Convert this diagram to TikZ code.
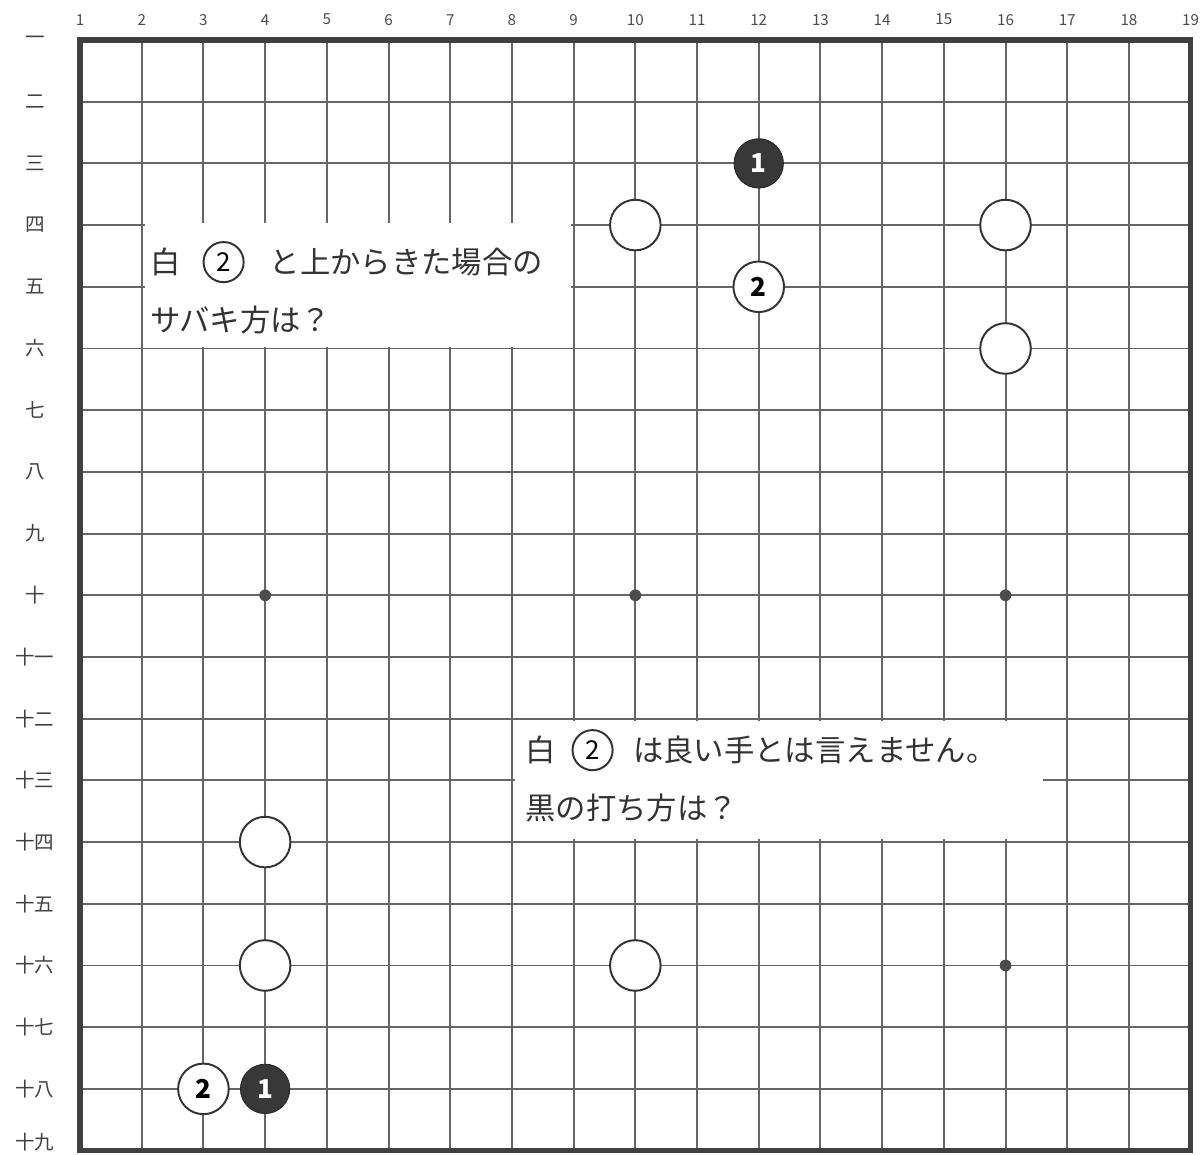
\documentclass[tikz,border=0pt]{standalone}
\usepackage{fontspec}
\newfontfamily\jp{Noto Sans CJK JP}
\usetikzlibrary{positioning}

\begin{document}
\begin{tikzpicture}[
    gridline/.style={draw=black!60, line width=0.9pt},
    border/.style={draw=black!75, line width=2.4pt},
    stonew/.style={circle, draw=black!80, fill=white, line width=0.9pt, minimum size=0.82cm, inner sep=0pt, font=\jp\bfseries\fontsize{12}{12}\selectfont},
    stoneb/.style={circle, draw=black!85, fill=black!78, text=white, minimum size=0.8cm, inner sep=0pt, font=\jp\bfseries\fontsize{12}{12}\selectfont},
    hoshi/.style={circle, fill=black!70, minimum size=0.19cm, inner sep=0pt},
    collabel/.style={font=\jp\fontsize{7}{8}\selectfont, text=black!70, inner sep=0pt},
    rowlabel/.style={font=\jp\fontsize{9}{10}\selectfont, text=black!75, inner sep=0pt},
    question/.style={font=\jp\fontsize{14}{16}\selectfont, text=black!80, inner sep=0pt, anchor=west},
    circnum/.style={circle, draw=black!80, line width=0.9pt, minimum size=0.65cm, inner sep=0pt, font=\jp\fontsize{12}{12}\selectfont}
]
\useasboundingbox (-1.297,-18.07) rectangle (18.217,0.648);

% Board lines
\foreach \i in {1,...,17} {
  \draw[gridline] (\i,0) -- (\i,-18);
  \draw[gridline] (0,-\i) -- (18,-\i);
}
\draw[border] (0,0) rectangle (18,-18);

% Column numbers along the top
\foreach \i in {1,...,19}
  \node[collabel] (col\i) at (\i-1,0.33) {\i};

% Row numbers down the left side
\foreach \k [count=\i from 0] in {一,二,三,四,五,六,七,八,九,十,十一,十二,十三,十四,十五,十六,十七,十八}
  \node[rowlabel] (row\i) at (-0.73,-\i) {\k};
\node[rowlabel] (row18) at (-0.73,-17.86) {十九};

% Star points
\node[hoshi] (h1) at (3,-9) {};
\node[hoshi] (h2) at (9,-9) {};
\node[hoshi] (h3) at (15,-9) {};
\node[hoshi] (h4) at (15,-15) {};

% Stones in the upper right
\node[stoneb] (b1) at (11,-2) {1};
\node[stonew] (w1) at (9,-3) {};
\node[stonew] (w2) at (15,-3) {};
\node[stonew] (w3) at (11,-4) {2};
\node[stonew] (w4) at (15,-5) {};

% Stones in the lower left
\node[stonew] (w5) at (3,-13) {};
\node[stonew] (w6) at (3,-15) {};
\node[stonew] (w7) at (9,-15) {};
\node[stonew] (w8) at (2,-17) {2};
\node[stoneb] (b2) at (3,-17) {1};

% First question
\fill[white] (1.05,-2.97) rectangle (7.95,-4.97);
\node[question] (q1a) at (1.13,-3.6) {白};
\node[circnum, right=0.35cm of q1a] (q1n) {2};
\node[question, right=0.4cm of q1n] (q1b) {と上からきた場合の};
\node[question] (q1c) at (1.13,-4.54) {サバキ方は？};

% Second question
\fill[white] (7.05,-11.04) rectangle (15.6,-12.95);
\node[question] (q2a) at (7.21,-11.51) {白};
\node[circnum, right=0.25cm of q2a] (q2n) {2};
\node[question, right=0.31cm of q2n] (q2b) {は良い手とは言えません。};
\node[question] (q2c) at (7.21,-12.45) {黒の打ち方は？};
\end{tikzpicture}
\end{document}
